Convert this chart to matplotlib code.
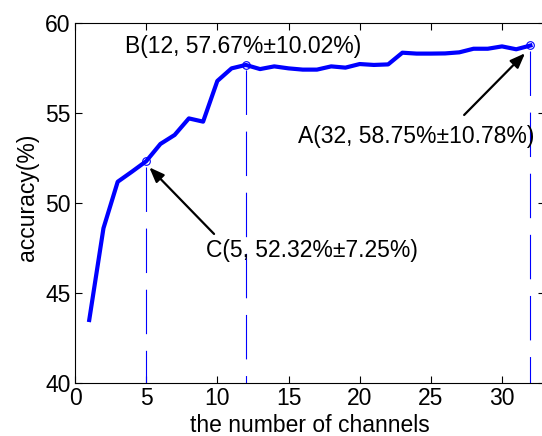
import matplotlib
matplotlib.use("Agg")
import matplotlib.pyplot as plt

channels = list(range(1, 33))
accuracy = [43.5, 48.6, 51.18, 51.74, 52.32, 53.28, 53.78, 54.7, 54.52, 56.78,
            57.48, 57.67, 57.44, 57.59, 57.48, 57.41, 57.41, 57.59, 57.52, 57.72,
            57.67, 57.70, 58.35, 58.30, 58.30, 58.31, 58.37, 58.57, 58.57, 58.70,
            58.54, 58.75]
marked_x = [5, 12, 32]
labels = {5: "C(5, 52.32%\u00b17.25%)",
          12: "B(12, 57.67%\u00b110.02%)",
          32: "A(32, 58.75%\u00b110.78%)"}
xticks = [0, 5, 10, 15, 20, 25, 30]
yticks = [40, 45, 50, 55, 60]

plt.rcParams['font.family'] = ['Liberation Sans', 'DejaVu Sans']
plt.rcParams['lines.scale_dashes'] = False
FS = 16.5

W, H = 542, 436
fig = plt.figure(figsize=(W / 100, H / 100), dpi=100)
ax = fig.add_axes([75 / W, (H - 383) / H, (544.7 - 75) / W, 360 / H])

ax.plot(channels, accuracy, color=(0, 0, 1), lw=3.0, solid_joinstyle='round', zorder=3)

for mx in marked_x:
    my = accuracy[mx - 1]
    ax.plot([mx, mx], [my - 0.3, 40], color=(0, 0, 1), lw=0.8,
            dashes=(32, 12), zorder=2)
    ax.plot([mx], [my], marker='o', ms=5.5, mfc='none', mec=(0, 0, 1), mew=0.8, zorder=4)

ax.text(3.51, 58.33, labels[12], fontsize=FS, ha='left', va='baseline')
ax.text(15.67, 53.33, labels[32], fontsize=FS, ha='left', va='baseline')
ax.text(9.2, 47.02, labels[5], fontsize=FS, ha='left', va='baseline')

arrowprops = dict(arrowstyle='-|>,head_length=0.9,head_width=0.35', color='black',
                  lw=1.6, shrinkA=0, shrinkB=0)
ax.annotate('', xy=(31.62, 58.32), xytext=(27.34, 54.89), arrowprops=arrowprops)
ax.annotate('', xy=(5.22, 51.98), xytext=(9.77, 48.28), arrowprops=arrowprops)

ax.set_xlim(0, 33)
ax.set_ylim(40, 60)
ax.set_xticks(xticks)
ax.set_yticks(yticks)
ax.tick_params(direction='in', length=5, width=0.8, top=True, right=True,
               labelsize=FS, pad=3)
for s in ax.spines.values():
    s.set_linewidth(0.8)

fig.text(310 / W, 1 - 425 / H, "the number of channels", fontsize=FS,
         ha='center', va='center')
fig.text(27 / W, 1 - 197 / H, "accuracy(%)", fontsize=FS, rotation=90,
         ha='center', va='center')

fig.savefig("out.png", dpi=100)
